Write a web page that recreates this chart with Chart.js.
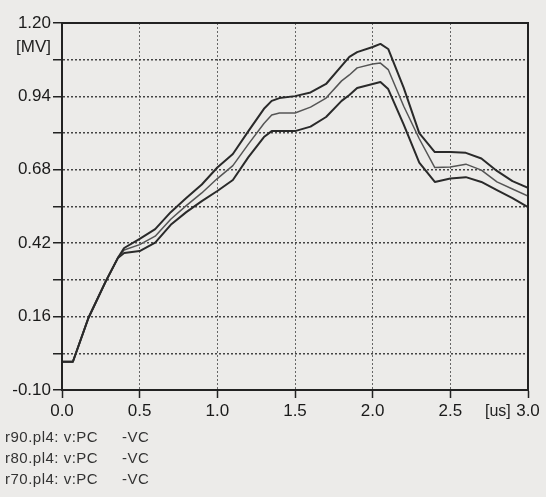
<!DOCTYPE html>
<html>
<head>
<meta charset="utf-8">
<script src="https://cdn.jsdelivr.net/npm/chart.js@4.4.1/dist/chart.umd.min.js"></script>
<style>
  body { margin: 0; background: #ecebe9; }
  #wrap { position: relative; width: 546px; height: 497px; font-family: "Liberation Sans", Arial, sans-serif; color: #222; }
  .lbl { position: absolute; white-space: nowrap; }
  .leg { position: absolute; left: 5px; font-size: 15px; letter-spacing: 0.5px; color: #333; white-space: nowrap; }
  .leg span { position: absolute; left: 117px; }
</style>
</head>
<body>
<div id="wrap">
  <canvas id="plot" width="546" height="497"></canvas>
  <div class="lbl" style="left:16px; top:37px; font-size:17px;">[MV]</div>
  <div class="lbl" style="left:485px; top:402px; font-size:16px;">[us]</div>
  <div class="leg" style="top:428px;">r90.pl4: v:PC<span>-VC</span></div>
  <div class="leg" style="top:449px;">r80.pl4: v:PC<span>-VC</span></div>
  <div class="leg" style="top:470px;">r70.pl4: v:PC<span>-VC</span></div>
</div>
<script>
// time axis in us, voltages in MV
const times = [0, 0.07, 0.17, 0.28, 0.36, 0.40, 0.5, 0.6, 0.7, 0.8, 0.9, 1.0, 1.1, 1.2, 1.3, 1.35, 1.4, 1.5, 1.6, 1.7,
               1.8, 1.85, 1.9, 2.0, 2.05, 2.1, 2.2, 2.3, 2.4, 2.5, 2.6, 2.7, 2.8, 2.9, 3.0];
const r90 = [0, 0, 0.155, 0.283, 0.368, 0.403, 0.435, 0.470, 0.530, 0.580, 0.628, 0.688, 0.736, 0.817, 0.896, 0.924, 0.934, 0.941, 0.954, 0.984,
             1.048, 1.080, 1.097, 1.115, 1.126, 1.108, 0.970, 0.810, 0.743, 0.743, 0.740, 0.720, 0.676, 0.640, 0.616];
const r80 = [0, 0, 0.155, 0.283, 0.368, 0.396, 0.415, 0.445, 0.505, 0.553, 0.598, 0.649, 0.695, 0.771, 0.844, 0.874, 0.881, 0.881, 0.902, 0.934,
             0.995, 1.016, 1.041, 1.055, 1.058, 1.035, 0.905, 0.790, 0.688, 0.690, 0.700, 0.679, 0.637, 0.612, 0.587];
const r70 = [0, 0, 0.155, 0.283, 0.368, 0.385, 0.392, 0.422, 0.485, 0.530, 0.569, 0.605, 0.644, 0.725, 0.796, 0.817, 0.817, 0.817, 0.833, 0.867,
             0.924, 0.945, 0.970, 0.984, 0.991, 0.966, 0.840, 0.705, 0.637, 0.649, 0.654, 0.637, 0.608, 0.580, 0.548];

const xTicks = [0, 0.5, 1.0, 1.5, 2.0, 2.5, 3.0];
const yTicks = [-0.10, 0.03, 0.16, 0.29, 0.42, 0.55, 0.68, 0.81, 0.94, 1.07, 1.20];

function pts(vals) {
    return times.map((t, i) => ({ x: t, y: vals[i] }));
}

// box round the plot area (top and right edges)
const frame = {
    id: 'frame',
    afterDraw(chart) {
        const { ctx, chartArea: a } = chart;
        ctx.save();
        ctx.strokeStyle = '#222';
        ctx.lineWidth = 2;
        ctx.strokeRect(a.left, a.top, a.right - a.left, a.bottom - a.top);
        ctx.restore();
    }
};

const ctx = document.getElementById('plot').getContext('2d');

new Chart(ctx, {
    type: 'line',
    data: {
        datasets: [{
            label: 'r90.pl4: v:PC -VC',
            data: pts(r90),
            borderColor: '#2a2a2a',
            borderWidth: 2,
        }, {
            label: 'r80.pl4: v:PC -VC',
            data: pts(r80),
            borderColor: '#555',
            borderWidth: 1.5,
        }, {
            label: 'r70.pl4: v:PC -VC',
            data: pts(r70),
            borderColor: '#2a2a2a',
            borderWidth: 2,
        }]
    },
    options: {
        responsive: false,
        animation: false,
        elements: { point: { radius: 0 }, line: { tension: 0, borderJoinStyle: 'round' } },
        layout: { padding: { left: 0, top: 23, right: 18, bottom: 77 } },
        plugins: { legend: { display: false }, tooltip: { enabled: false } },
        scales: {
            x: {
                type: 'linear',
                min: 0,
                max: 3,
                afterBuildTicks: s => { s.ticks = xTicks.map(v => ({ value: v })); },
                afterFit: s => { s.height = 30; },
                ticks: {
                    autoSkip: false,
                    maxRotation: 0,
                    padding: 3,
                    color: '#1a1a1a',
                    font: { size: 17, family: '"Liberation Sans", Arial, sans-serif' },
                    callback: v => v.toFixed(1)
                },
                grid: { color: '#666', lineWidth: 1, tickLength: 8, tickColor: '#222', tickWidth: 1.5 },
                border: { color: '#222', width: 2, dash: [2, 2] }
            },
            y: {
                min: -0.10,
                max: 1.20,
                afterBuildTicks: s => { s.ticks = yTicks.map(v => ({ value: v })); },
                afterFit: s => { s.width = 62; },
                ticks: {
                    autoSkip: false,
                    padding: 2,
                    color: '#1a1a1a',
                    font: { size: 17, family: '"Liberation Sans", Arial, sans-serif' },
                    callback: (v, i) => i % 2 === 0 ? v.toFixed(2) : ''
                },
                grid: { color: '#444', lineWidth: 1.5, tickLength: 9, tickColor: '#222', tickWidth: 1.5 },
                border: { color: '#222', width: 2, dash: [2, 2] }
            }
        }
    },
    plugins: [frame]
});
</script>
</body>
</html>
